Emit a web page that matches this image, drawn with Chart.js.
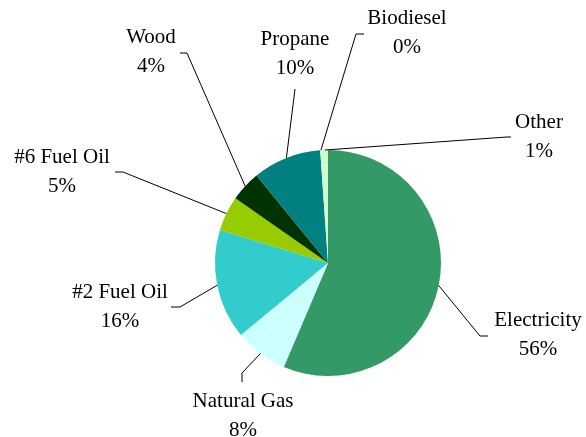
<!DOCTYPE html>
<html>
<head>
<meta charset="utf-8">
<script src="https://cdn.jsdelivr.net/npm/chart.js@4/dist/chart.umd.min.js"></script>
<style>
  html, body { margin: 0; padding: 0; background: #fff; }
  #wrap { width: 586px; height: 437px; }
</style>
</head>
<body>
<div id="wrap"><canvas id="fuelChart" width="586" height="437"></canvas></div>
<script>
const categories = ['Electricity', 'Natural Gas', '#2 Fuel Oil', '#6 Fuel Oil', 'Wood', 'Propane', 'Biodiesel', 'Other'];
const shares = [56.4, 7.6, 15.7, 5.0, 4.4, 9.8, 0.2, 0.9];
const sliceColors = ['#339966', '#CCFFFF', '#33CCCC', '#99CC00', '#003300', '#008080', '#CCFFCC', '#CCFFCC'];

// label placement: knee of the leader, tail end, and text centre
const labelLayout = [
  { knee: [480, 336], tail: [488, 336], text: [538, 320] },
  { knee: [242, 373], tail: [242, 382], text: [243, 401] },
  { knee: [180, 307], tail: [171, 307], text: [120, 292] },
  { knee: [123, 172], tail: [115, 172], text: [62, 157] },
  { knee: [187, 53],  tail: [180, 53],  text: [151, 37] },
  { knee: [295, 89],  tail: [295, 89],  text: [295, 39] },
  { knee: [356, 34],  tail: [364, 34],  text: [407, 18] },
  { knee: [507, 137], tail: [511, 137], text: [539, 122] }
];

const leaderLabels = {
  id: 'leaderLabels',
  afterDraw(chart) {
    const ctx = chart.ctx;
    const meta = chart.getDatasetMeta(0);
    ctx.save();
    ctx.strokeStyle = '#000';
    ctx.lineWidth = 1;
    ctx.fillStyle = '#000';
    ctx.font = "21px 'Liberation Serif', 'Times New Roman', serif";
    ctx.textAlign = 'center';
    ctx.textBaseline = 'middle';
    meta.data.forEach((arc, i) => {
      const p = arc.getProps(['x', 'y', 'startAngle', 'endAngle', 'outerRadius'], true);
      const mid = (p.startAngle + p.endAngle) / 2;
      const sx = p.x + Math.cos(mid) * p.outerRadius;
      const sy = p.y + Math.sin(mid) * p.outerRadius;
      const lay = labelLayout[i];
      ctx.beginPath();
      ctx.moveTo(sx, sy);
      ctx.lineTo(lay.knee[0], lay.knee[1]);
      ctx.lineTo(lay.tail[0], lay.tail[1]);
      ctx.stroke();
      ctx.fillText(categories[i], lay.text[0], lay.text[1]);
      ctx.fillText(Math.round(shares[i]) + '%', lay.text[0], lay.text[1] + 29);
    });
    ctx.restore();
  }
};

new Chart(document.getElementById('fuelChart'), {
  type: 'pie',
  data: {
    labels: categories,
    datasets: [{
      data: shares,
      backgroundColor: sliceColors,
      borderWidth: 0
    }]
  },
  options: {
    responsive: false,
    animation: false,
    layout: { padding: { left: 215, right: 145, top: 150, bottom: 61 } },
    plugins: {
      legend: { display: false },
      tooltip: { enabled: false }
    }
  },
  plugins: [leaderLabels]
});
</script>
</body>
</html>
